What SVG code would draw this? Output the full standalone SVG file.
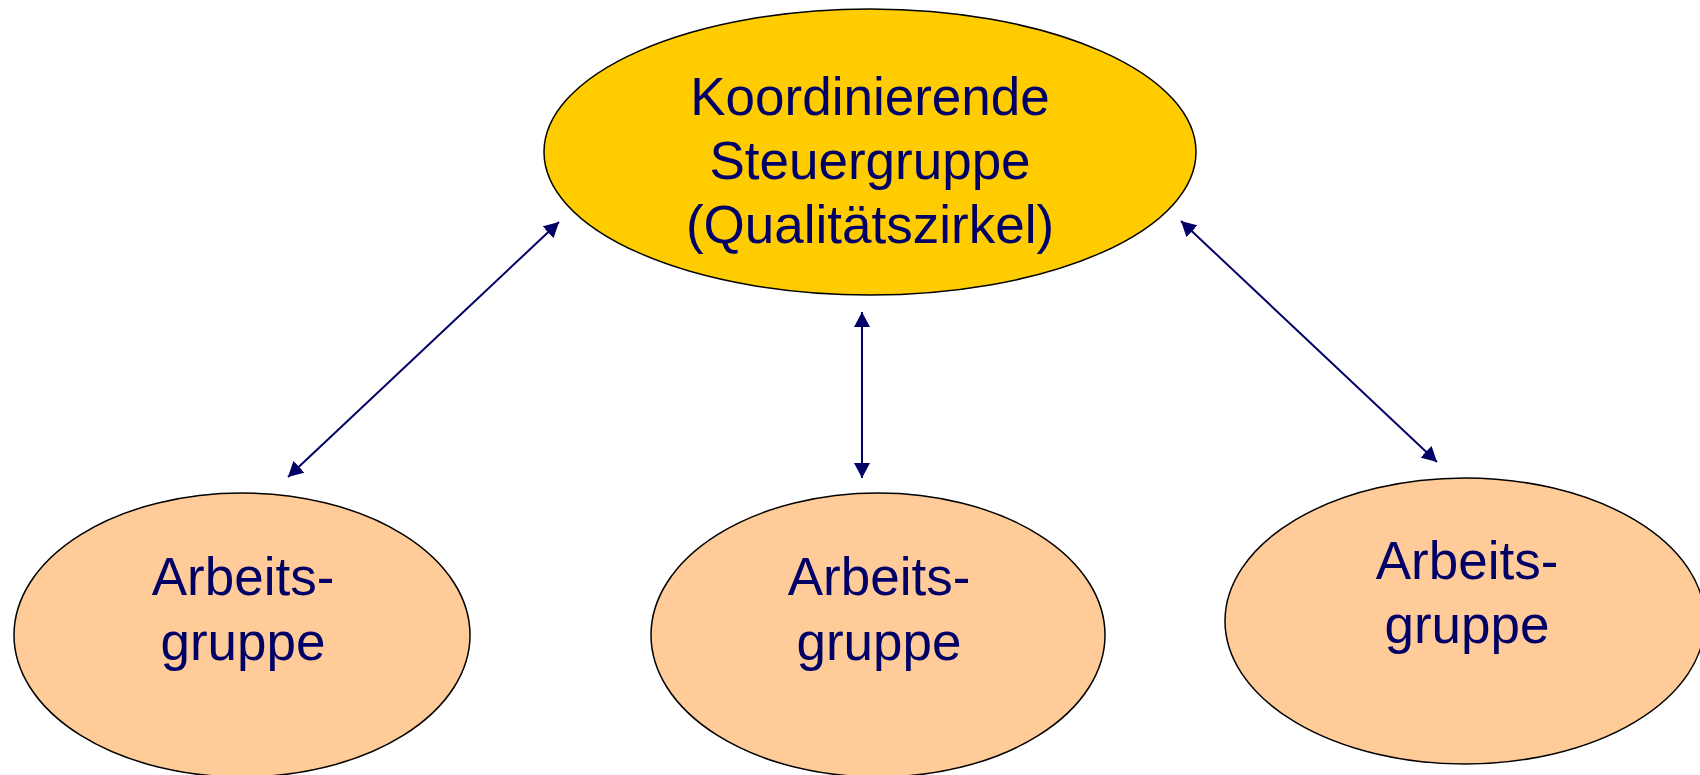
<svg xmlns="http://www.w3.org/2000/svg" width="1700" height="775" viewBox="0 0 1700 775">
<style>
.node { stroke: #000000; stroke-width: 1.5; }
.top { fill: #FFCC00; }
.sub { fill: #FFCC99; }
.lbl { font-family: "Liberation Sans", Arial, sans-serif; font-size: 53px; fill: #000066; text-anchor: middle; }
.conn { stroke: #000066; stroke-width: 2; fill: none; marker-start: url(#ah); marker-end: url(#ah); }
</style>
<defs>
<marker id="ah" markerUnits="userSpaceOnUse" markerWidth="16" markerHeight="16" refX="15" refY="8" orient="auto-start-reverse" viewBox="0 0 16 16">
<path d="M0,0 L15,8 L0,16 z" fill="#000066"/>
</marker>
</defs>
<rect width="1700" height="775" fill="#FFFFFF"/>
<g id="connectors">
<line class="conn" x1="559" y1="222" x2="288" y2="477"/>
<line class="conn" x1="862" y1="312" x2="862" y2="478"/>
<line class="conn" x1="1181" y1="221" x2="1437" y2="462"/>
</g>
<g id="steuergruppe">
<ellipse class="node top" cx="870" cy="152" rx="326" ry="143"/>
<text class="lbl" x="870" y="115">Koordinierende</text>
<text class="lbl" x="870" y="179">Steuergruppe</text>
<text class="lbl" x="870" y="243">(Qualitätszirkel)</text>
</g>
<g id="arbeitsgruppe1">
<ellipse class="node sub" cx="242" cy="635" rx="228" ry="142"/>
<text class="lbl" x="243" y="595">Arbeits-</text>
<text class="lbl" x="243" y="660">gruppe</text>
</g>
<g id="arbeitsgruppe2">
<ellipse class="node sub" cx="878" cy="635" rx="227" ry="142"/>
<text class="lbl" x="879" y="595">Arbeits-</text>
<text class="lbl" x="879" y="660">gruppe</text>
</g>
<g id="arbeitsgruppe3">
<ellipse class="node sub" cx="1465" cy="621" rx="240" ry="143"/>
<text class="lbl" x="1467" y="579">Arbeits-</text>
<text class="lbl" x="1467" y="643">gruppe</text>
</g>
</svg>
